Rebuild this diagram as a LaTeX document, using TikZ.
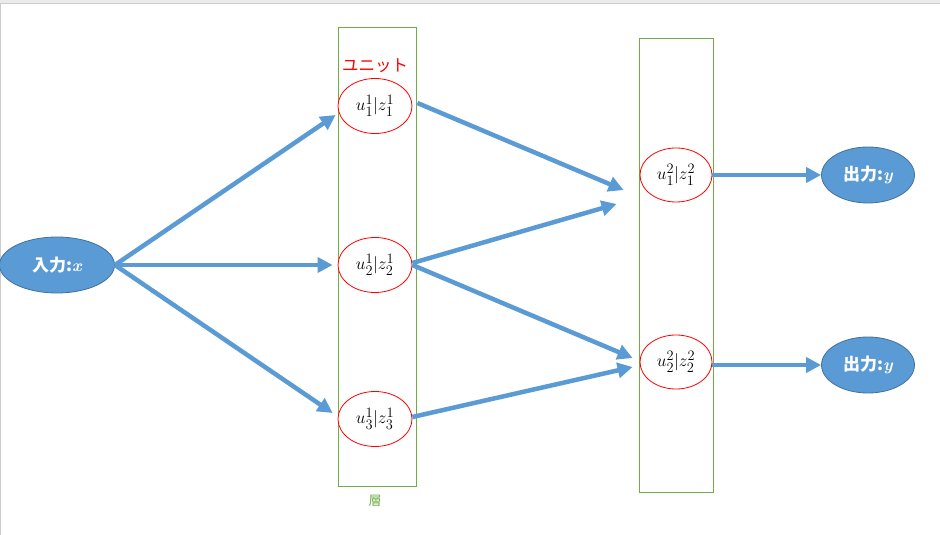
\documentclass[tikz,border=0pt]{standalone}
\usepackage{amsmath}
\usepackage{fontspec}
\newfontfamily\cjk{Noto Sans CJK JP}
\usetikzlibrary{shapes.geometric,arrows.meta,calc}
\definecolor{flowblue}{HTML}{5B9BD5}
\definecolor{edgeblue}{HTML}{41719C}
\definecolor{boxgreen}{HTML}{70AD47}
\definecolor{unitred}{HTML}{FF0000}
\newcommand{\ulab}[4]{\fontsize{19}{21}\selectfont$u^{#1}_{#2}|z^{#3}_{#4}$}
\newcommand{\iolab}[2]{\cjk\bfseries\fontsize{17}{19}\selectfont #1:{\rmfamily\bfseries\itshape #2}}
\begin{document}
\begin{tikzpicture}[x=1pt,y=-1pt,
  unit/.style={ellipse,draw=unitred,line width=0.8pt,fill=white,inner sep=0pt,minimum width=74pt,minimum height=55pt},
  io/.style={ellipse,draw=edgeblue,line width=0.8pt,fill=flowblue,inner sep=0pt,text=white},
  layerbox/.style={draw=boxgreen,line width=0.9pt},
  flow/.style={draw=flowblue,line width=4.5pt,-{Triangle[length=15pt,width=15pt]}}
]
\useasboundingbox (0,0) rectangle (940,535);
\fill[white] (0,0) rectangle (940,535);
\fill[black!8] (0,0) rectangle (940,3);
\draw[black!20,line width=0.8pt] (0,3.5) -- (940,3.5);
\draw[black!20,line width=0.8pt] (0.5,3.5) -- (0.5,535);

\draw[layerbox] (338,27) rectangle (416,486);
\draw[layerbox] (639,38) rectangle (713,492);

\node[io,minimum width=115pt,minimum height=56pt] (in) at (57,265) {\iolab{入力}{x}};
\node[io,minimum width=93pt,minimum height=56pt] (o1) at (868,175) {\iolab{出力}{y}};
\node[io,minimum width=93pt,minimum height=56pt] (o2) at (868,365) {\iolab{出力}{y}};

\node[unit] (u11) at (375,106) {\ulab{1}{1}{1}{1}};
\node[unit] (u12) at (375,265) {\ulab{1}{2}{1}{2}};
\node[unit] (u13) at (375,419) {\ulab{1}{3}{1}{3}};
\node[unit,minimum width=72pt,minimum height=54pt] (u21) at (676,175) {\ulab{2}{1}{2}{1}};
\node[unit,minimum width=72pt,minimum height=54pt] (u22) at (676,362) {\ulab{2}{2}{2}{2}};

\node[text=unitred,font=\cjk\fontsize{16.5}{18}\selectfont] (lblunit) at (375,66) {ユニット};
\node[text=boxgreen,font=\cjk\fontsize{13}{15}\selectfont] (lbllayer) at (375,501) {層};

\coordinate (s11) at ($(u11.east)+(5,-3)$);
\coordinate (s12) at ($(u12.east)+(0,-2)$);
\coordinate (s12b) at ($(u12.east)+(0,0)$);
\coordinate (s13) at ($(u13.east)+(0,-2)$);
\coordinate (t11) at ($(u11.west)+(-2,9)$);
\coordinate (t12) at ($(u12.west)+(-5,0)$);
\coordinate (t13) at ($(u13.west)+(-5,-6)$);
\coordinate (t21a) at ($(u21.west)+(-16,15)$);
\coordinate (t21b) at ($(u21.west)+(-23,29)$);
\coordinate (t22a) at ($(u22.west)+(-7,-4)$);
\coordinate (t22b) at ($(u22.west)+(-7,5)$);

\draw[flow] (in.east) -- (t11);
\draw[flow] (in.east) -- (t12);
\draw[flow] (in.east) -- (t13);
\draw[flow] (s11) -- (t21a);
\draw[flow] (s12) -- (t21b);
\draw[flow] (s12b) -- (t22a);
\draw[flow] (s13) -- (t22b);
\draw[flow] (u21.east) -- (o1.west);
\draw[flow] (u22.east |- o2.west) -- (o2.west);
\end{tikzpicture}
\end{document}
